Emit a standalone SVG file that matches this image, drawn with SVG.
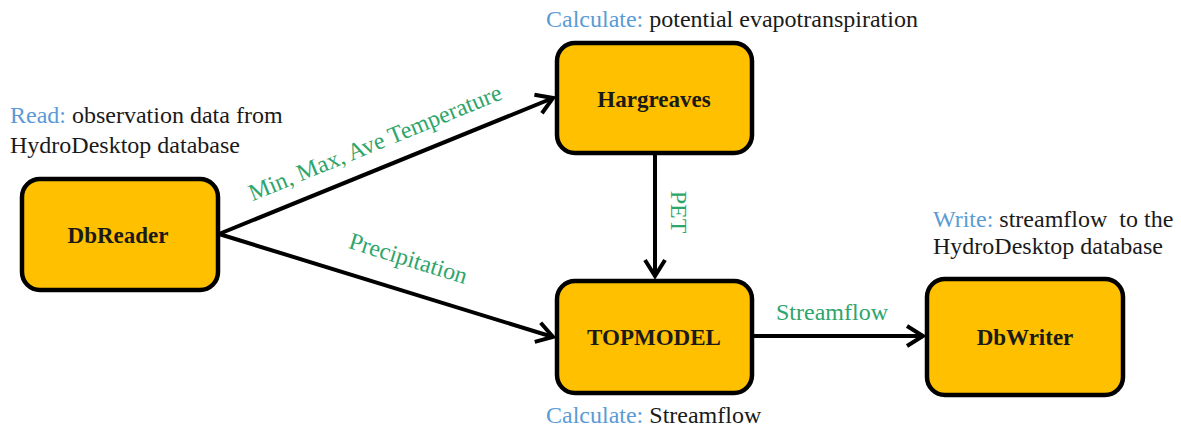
<svg xmlns="http://www.w3.org/2000/svg" width="1181" height="429" viewBox="0 0 1181 429">
<style>
.box{fill:#FFC000;stroke:#000;stroke-width:4.5}
.nl{font-family:"Liberation Serif","Times New Roman",serif;font-weight:bold;font-size:23px;fill:#1a1a1a;text-anchor:middle}
.ann{font-family:"Liberation Serif","Times New Roman",serif;font-size:24px;fill:#1a1a1a}
.blue{fill:#5b9bd5}
.el{font-family:"Liberation Serif","Times New Roman",serif;font-size:24px;fill:#2ea56a}
.conn{stroke:#000;stroke-width:4;fill:none;marker-end:url(#ah)}
</style>
<defs>
<marker id="ah" markerUnits="userSpaceOnUse" markerWidth="30" markerHeight="30" viewBox="0 0 30 30" refX="20" refY="15" orient="auto">
<path d="M4,5 L20,15 L4,25" fill="none" stroke="#000" stroke-width="4" stroke-linejoin="miter"/>
</marker>
</defs>
<rect width="1181" height="429" fill="#fff"/>
<g id="connectors">
<line class="conn" x1="219" y1="234" x2="553" y2="98"/>
<line class="conn" x1="219" y1="234" x2="553" y2="337"/>
<line class="conn" x1="655" y1="153" x2="655" y2="276"/>
<line class="conn" x1="752" y1="336" x2="923" y2="336"/>
<text class="el" transform="translate(378,150) rotate(-22.2)" text-anchor="middle">Min, Max, Ave Temperature</text>
<text class="el" transform="translate(406,266) rotate(17.2)" text-anchor="middle">Precipitation</text>
<text class="el" transform="translate(671,212) rotate(90)" text-anchor="middle">PET</text>
<text class="el" x="832" y="320" text-anchor="middle">Streamflow</text>
</g>
<g id="DbReader">
<rect class="box" x="22" y="179" width="196" height="111" rx="18"/>
<text class="nl" x="118" y="243">DbReader</text>
<text class="ann" x="10" y="123"><tspan class="blue">Read:</tspan> observation data from</text>
<text class="ann" x="10" y="153">HydroDesktop database</text>
</g>
<g id="Hargreaves">
<rect class="box" x="557" y="43" width="195" height="110" rx="18"/>
<text class="nl" x="654" y="107">Hargreaves</text>
<text class="ann" x="546" y="27"><tspan class="blue">Calculate:</tspan> potential evapotranspiration</text>
</g>
<g id="TOPMODEL">
<rect class="box" x="557" y="281" width="195" height="112" rx="18"/>
<text class="nl" x="654" y="345">TOPMODEL</text>
<text class="ann" x="546" y="423"><tspan class="blue">Calculate:</tspan> Streamflow</text>
</g>
<g id="DbWriter">
<rect class="box" x="927" y="279" width="196" height="116" rx="18"/>
<text class="nl" x="1025" y="345">DbWriter</text>
<text class="ann" x="933" y="227" xml:space="preserve"><tspan class="blue">Write:</tspan> streamflow  to the</text>
<text class="ann" x="933" y="254">HydroDesktop database</text>
</g>
</svg>
